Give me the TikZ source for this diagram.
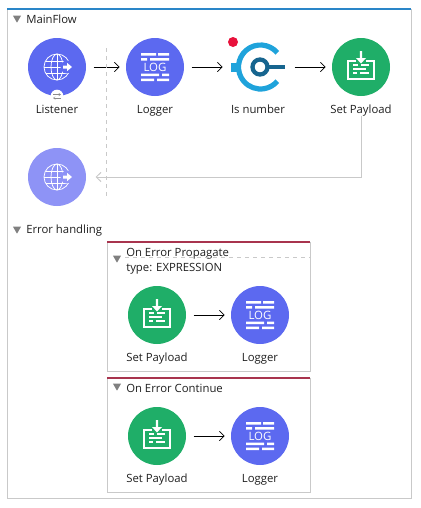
\documentclass[tikz,border=0pt]{standalone}
\usepackage{fontspec}
\setmainfont{Open Sans}
\usepackage{xcolor}
\usetikzlibrary{arrows.meta,positioning,calc,shapes.geometric}
\definecolor{muleblue}{HTML}{5C69F0}
\definecolor{mulelight}{HTML}{8E93F6}
\definecolor{mulegreen}{HTML}{1FAE68}
\definecolor{mulecyan}{HTML}{1FA3DB}
\definecolor{muledark}{HTML}{17658F}
\definecolor{errred}{HTML}{A8344E}
\definecolor{framegray}{HTML}{C9C9C9}
\definecolor{topblue}{HTML}{2A86C8}
\definecolor{dotred}{HTML}{E8123C}
\tikzset{
 flowcircle/.style={circle,minimum size=43.5pt,inner sep=0pt},
 flowlabel/.style={font=\fontsize{8.5}{10}\selectfont,text=black!88,inner sep=0pt,anchor=base},
 headlabel/.style={font=\fontsize{8.5}{10}\selectfont,text=black!88,inner sep=0pt,anchor=base west},
 collapse/.style={regular polygon,regular polygon sides=3,shape border rotate=180,fill=black!50,minimum size=7pt,inner sep=0pt},
 flowarrow/.style={-{Straight Barb[length=3.6pt,width=7pt]},black,line width=0.55pt,shorten <=5.5pt,shorten >=4.5pt},
 returnline/.style={-{Straight Barb[length=3.6pt,width=7pt]},framegray,line width=0.7pt,shorten >=7pt},
 framebox/.style={draw=framegray,line width=0.7pt},
 pics/globeicon/.style={code={
   \draw[white,line width=0.55pt] (0,0) circle (13);
   \draw[white,line width=0.55pt] (0,0) ellipse (6 and 13);
   \draw[white,line width=0.55pt] (0,-13) -- (0,13) (-13,0) -- (13,0) (-11.5,6) -- (11.5,6) (-11.5,-6) -- (11.5,-6);
   \fill[#1] (10,0) circle (6.5);
   \fill[white] (6,-1.5) -- (10,-1.5) -- (10,-4.2) -- (15,0) -- (10,4.2) -- (10,1.5) -- (6,1.5) -- cycle;
 }},
 pics/logicon/.style={code={
   \fill[white] (-14,14) rectangle (1,11.5) (3,14) rectangle (14,11.5);
   \fill[white] (-14,9) rectangle (-8,6.5) (-5,9) rectangle (14,6.5);
   \node[white,inner sep=0pt,font=\fontsize{8.6}{10}\selectfont] (logtext) at (0,0) {LOG};
   \fill[white] (-14,-6.5) rectangle (4,-9) (7,-6.5) rectangle (14,-9);
   \fill[white] (-14,-11.5) rectangle (-1,-14) (2,-11.5) rectangle (14,-14);
 }},
 pics/payloadicon/.style={code={
   \draw[white,line width=0.9pt] (-5,6) -- (-13,6) -- (-13,-12) -- (13,-12) -- (13,6) -- (5,6);
   \fill[white] (-1.2,16) -- (1.2,16) -- (1.2,9) -- (5,9) -- (0,3.5) -- (-5,9) -- (-1.2,9) -- cycle;
   \draw[white,line width=0.9pt] (-8,2) -- (-3,2) (0,2) -- (8,2) (-8,-2) -- (5,-2) (-8,-6) -- (-4,-6) (-1,-6) -- (8,-6);
 }},
}
\begin{document}
\begin{tikzpicture}[x=0.75pt,y=0.75pt]
 \useasboundingbox (0,0) rectangle (421,-508);
 % outer frame
 \draw[framebox] (7,-9) -- (7,-498) -- (411,-498) -- (411,-9);
 \draw[topblue,line width=1.2pt] (7,-9) -- (411,-9);
 \node[collapse] (mainfold) at (17,-18) {};
 \node[headlabel] (mainhead) at (26,-23) {MainFlow};
 \node[collapse] (errfold) at (17,-229) {};
 \node[headlabel] (errhead) at (26,-233) {Error handling};
 % main flow
 \node[flowcircle,fill=muleblue] (listener) at (57,-67) {};
 \node[flowcircle,fill=muleblue] (logger) at (155,-67) {};
 \node[flowcircle] (isnumber) at (258,-67) {};
 \node[flowcircle,fill=mulegreen] (setpayload) at (361,-67) {};
 \node[flowcircle,fill=mulelight] (response) at (57,-177) {};
 \pic at (listener) {globeicon=muleblue};
 \pic at (response) {globeicon=mulelight};
 \pic at (logger) {logicon};
 \pic at (setpayload) {payloadicon};
 \node[circle,fill=white,minimum size=9.5pt,inner sep=0pt] (badge) at (57,-96) {};
 \draw[black!45,line width=0.3pt,-{Straight Barb[length=1.5pt,width=2pt]}] (53,-94.5) -- (61,-94.5);
 \draw[black!45,line width=0.3pt,-{Straight Barb[length=1.5pt,width=2pt]}] (61,-98) -- (53,-98);
 % choice icon
 \draw[mulecyan,line width=3.9pt] (260.5,-67) ++(40:22) arc (40:320:22);
 \fill[mulecyan] (231,-62.5) rectangle (238,-72);
 \draw[muledark,line width=3.2pt] (260,-67) circle (7.5);
 \fill[muledark] (267,-64.8) rectangle (285,-69.3);
 \node[circle,fill=dotred,minimum size=7.5pt,inner sep=0pt] (breakpoint) at (233,-42) {};
 \foreach \nm/\txt/\x in {listener/Listener/57,logger/Logger/155,isnumber/Is number/258,setpayload/Set Payload/361}
   \node[flowlabel] (lbl\nm) at (\x,-113) {\txt};
 \draw[flowarrow] (listener) -- (logger);
 \draw[flowarrow] (logger) -- (isnumber);
 \draw[flowarrow] (isnumber) -- (setpayload);
 \draw[returnline] (lblsetpayload) |- (response);
 \coordinate (dashtop) at (106.5,-48);
 \coordinate (dashbot) at (106.5,-197);
 \draw[framegray,dashed,line width=0.5pt] (dashtop) -- (dashbot);
 % error blocks
 \foreach \k/\top/\bot/\cy in {1/242/371/315,2/378/492/436} {
   \draw[framebox] (107,-\top) rectangle (310,-\bot);
   \draw[errred,line width=1.2pt] (107,-\top) -- (310,-\top);
   \node[flowcircle,fill=mulegreen] (setp\k) at (157,-\cy) {};
   \node[flowcircle,fill=muleblue] (logg\k) at (260,-\cy) {};
   \pic at (setp\k) {payloadicon};
   \pic at (logg\k) {logicon};
   \node[flowlabel] (lblsetp\k) at (157,-\cy-46) {Set Payload};
   \node[flowlabel] (lbllogg\k) at (260,-\cy-46) {Logger};
   \draw[flowarrow] (setp\k) -- (logg\k);
 }
 \node[collapse] (propfold) at (117,-258) {};
 \node[headlabel] (prophead) at (126,-256) {On Error Propagate};
 \node[headlabel] (proptype) at (126,-271) {type: EXPRESSION};
 \coordinate (propdash) at (125,-257.5);
 \coordinate (propdashend) at (310,-257.5);
 \draw[framegray,dashed,line width=0.5pt] (propdash) -- (propdashend);
 \node[collapse] (contfold) at (117,-386) {};
 \node[headlabel] (conthead) at (126,-392) {On Error Continue};
\end{tikzpicture}
\end{document}
